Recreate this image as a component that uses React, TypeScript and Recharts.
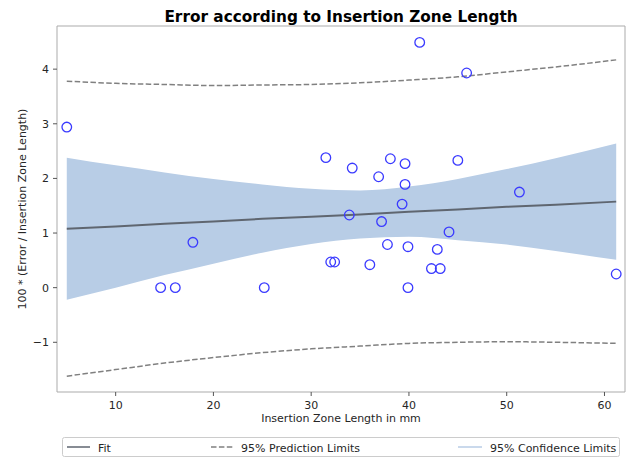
import React from 'react';
import {
  ComposedChart,
  Area,
  Line,
  Scatter,
  XAxis,
  YAxis,
  Label,
} from 'recharts';

// measured points: insertion zone length (mm) vs 100 * error / length
const pointX = [5.0, 14.6, 16.1, 17.9, 25.2, 32.0, 32.4, 31.5, 34.2, 33.9, 41.1, 45.9, 38.1, 39.6, 36.9, 39.6, 45.0, 51.3, 39.3, 37.2, 44.1, 37.8, 39.9, 42.9, 36.0, 42.3, 43.2, 39.9, 61.2];
const pointY = [2.94, 0, 0, 0.83, 0, 0.47, 0.47, 2.38, 2.19, 1.33, 4.49, 3.93, 2.36, 2.27, 2.03, 1.89, 2.33, 1.75, 1.53, 1.21, 1.02, 0.79, 0.75, 0.7, 0.42, 0.35, 0.35, 0, 0.25];

// fit and limits, read at a few x positions
const curveX = [5, 10, 15, 20, 25, 30, 35, 40, 45, 50, 55, 61.2];
const fitY = [1.08, 1.12, 1.17, 1.21, 1.26, 1.3, 1.34, 1.39, 1.43, 1.48, 1.52, 1.575];
const ciLow = [-0.22, 0.0, 0.23, 0.44, 0.64, 0.8, 0.9, 0.93, 0.87, 0.79, 0.67, 0.51];
const ciHigh = [2.38, 2.24, 2.11, 1.99, 1.89, 1.81, 1.78, 1.85, 1.99, 2.17, 2.37, 2.64];
const piLow = [-1.62, -1.5, -1.38, -1.28, -1.19, -1.12, -1.07, -1.02, -1.0, -0.99, -1.0, -1.02];
const piHigh = [3.78, 3.74, 3.72, 3.7, 3.71, 3.72, 3.75, 3.8, 3.86, 3.95, 4.04, 4.17];

const xTicks = [10, 20, 30, 40, 50, 60];
const yTicks = [-1, 0, 1, 2, 3, 4];

const FONT = '"DejaVu Sans", sans-serif';
const TEXT = '#262626';
const SPINE = '#ababab';
const BAND = '#b8cde6';
const FIT = '#5f6670';
const PRED = '#808080';
const MARKER = '#3a3aff';

const points = pointX.map((x, i) => ({ x, y: pointY[i] }));
const curves = curveX.map((x, i) => ({
  x,
  fit: fitY[i],
  ci: [ciLow[i], ciHigh[i]],
  piLow: piLow[i],
  piHigh: piHigh[i],
}));

const Circle = (props: any) => (
  <circle cx={props.cx} cy={props.cy} r={4.8} fill="none" stroke={MARKER} strokeWidth={1.3} />
);

const YLabel = (props: any) => {
  const vb = props.viewBox;
  const x = vb.x + 22;
  const y = vb.y + vb.height / 2;
  return (
    <text
      x={x}
      y={y}
      transform={`rotate(-90 ${x} ${y})`}
      textAnchor="middle"
      dominantBaseline="central"
      fontSize={11}
      fontFamily={FONT}
      fill={TEXT}
    >
      100 * (Error / Insertion Zone Length)
    </text>
  );
};

export default function App() {
  const tickStyle = { fontSize: 11, fontFamily: FONT, fill: TEXT };
  return (
    <div style={{ position: 'absolute', left: 0, top: 0, width: 628, height: 458, background: '#fff' }}>
      <ComposedChart
        width={628}
        height={458}
        data={curves}
        margin={{ top: 26, right: 3, left: 0, bottom: 34 }}
      >
        <XAxis
          dataKey="x"
          type="number"
          domain={[4.0, 62.1]}
          ticks={xTicks}
          allowDataOverflow
          height={32}
          stroke={SPINE}
          tickLine={{ stroke: '#555' }}
          tickSize={4}
          tickMargin={5}
          tick={tickStyle}
        >
          <Label
            value="Insertion Zone Length in mm"
            position="insideBottom"
            offset={2}
            style={{ fontSize: 11, fontFamily: FONT, fill: TEXT }}
          />
        </XAxis>
        <YAxis
          type="number"
          domain={[-1.91, 4.79]}
          ticks={yTicks}
          allowDataOverflow
          width={57}
          stroke={SPINE}
          tickLine={{ stroke: '#555' }}
          tickSize={4}
          tickMargin={4}
          tick={tickStyle}
          tickFormatter={(v: number) => String(v).replace('-', '\u2212')}
          label={<YLabel />}
        />
        <Area
          dataKey="ci"
          type="monotone"
          stroke="none"
          fill={BAND}
          fillOpacity={1}
          isAnimationActive={false}
        />
        <Line
          dataKey="fit"
          type="linear"
          stroke={FIT}
          strokeWidth={2}
          dot={false}
          isAnimationActive={false}
        />
        <Line
          dataKey="piHigh"
          type="monotone"
          stroke={PRED}
          strokeWidth={1.5}
          strokeDasharray="5.5 2.4"
          dot={false}
          isAnimationActive={false}
        />
        <Line
          dataKey="piLow"
          type="monotone"
          stroke={PRED}
          strokeWidth={1.5}
          strokeDasharray="5.5 2.4"
          dot={false}
          isAnimationActive={false}
        />
        <Scatter data={points} dataKey="y" shape={<Circle />} isAnimationActive={false} />
      </ComposedChart>

      {/* title, top/right spines and legend box */}
      <svg
        width={628}
        height={458}
        style={{ position: 'absolute', left: 0, top: 0, pointerEvents: 'none' }}
        fontFamily={FONT}
      >
        <text x={341} y={21.5} textAnchor="middle" fontSize={15.3} fontWeight="bold" fill="#000">
          Error according to Insertion Zone Length
        </text>
        <line x1={57} y1={26} x2={625} y2={26} stroke={SPINE} />
        <line x1={625} y1={26} x2={625} y2={392} stroke={SPINE} />
        <rect x={62.5} y={437.5} width={557} height={19} rx={2} fill="#fff" stroke="#cccccc" />
        <line x1={67} y1={447} x2={90} y2={447} stroke={FIT} strokeWidth={1.5} />
        <text x={98} y={451.5} fontSize={11} fill={TEXT}>Fit</text>
        <line x1={211} y1={447} x2={234} y2={447} stroke={PRED} strokeWidth={1.5} strokeDasharray="5.5 2.4" />
        <text x={241} y={451.5} fontSize={11} fill={TEXT}>95% Prediction Limits</text>
        <line x1={458} y1={447} x2={482} y2={447} stroke={BAND} strokeWidth={1.5} />
        <text x={490} y={451.5} fontSize={11} fill={TEXT}>95% Confidence Limits</text>
      </svg>
    </div>
  );
}
